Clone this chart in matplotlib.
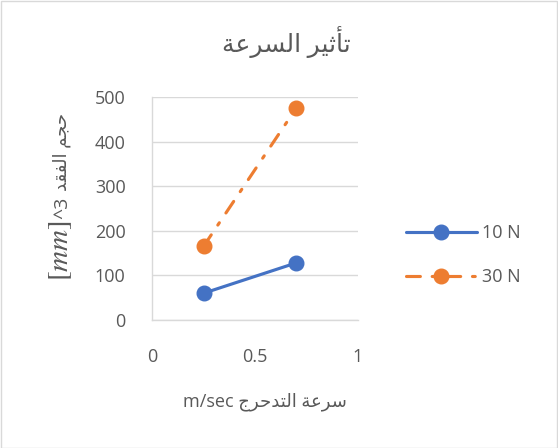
import matplotlib
matplotlib.use("Agg")
import matplotlib.pyplot as plt
from matplotlib.patches import Rectangle

# data
speed = [0.25, 0.7]
loss_10n = [60, 128]
loss_30n = [165, 475]
series_labels = ["10 N", "30 N"]
x_ticks = [0, 0.5, 1]
x_tick_labels = ["0", "0.5", "1"]
y_ticks = [0, 100, 200, 300, 400, 500]

# Arabic text in visual order with presentation forms (matplotlib does no shaping)
title_txt = "\uFE94\uFECB\uFEAE\uFEB4\uFEDF\uFE8D \uFEAE\uFEF4\uFE9B\uFE84\uFE97"
xlabel_txt = "m/sec \uFE9D\uFEAE\uFEA3\uFEAA\uFE98\uFEDF\uFE8D \uFE94\uFECB\uFEAE\uFEB3"
ylabel_ar = "\uFEAA\uFED8\uFED4\uFEDF\uFE8D \uFEE2\uFEA0\uFEA3"
ylabel_unit = r"$[mm]$"
ylabel_pow = "^3"

plt.rcParams["font.family"] = ["Open Sans", "DejaVu Sans"]
plt.rcParams["mathtext.fontset"] = "stix"
plt.rcParams["lines.scale_dashes"] = False

text_col = "#595959"
blue = "#4472C4"
orange = "#ED7D31"

fig = plt.figure(figsize=(5.58, 4.48), dpi=100)
ax = fig.add_axes([152 / 558, 1 - 320 / 448, 206 / 558, 223 / 448])

ax.plot(speed, loss_10n, color=blue, lw=2.25, marker="o", ms=10.5,
        label=series_labels[0], solid_capstyle="round")
ax.plot(speed, loss_30n, color=orange, lw=2.25, marker="o", ms=10.5,
        linestyle=(0, (10, 8.5, 2, 8.5)), dash_capstyle="round",
        label=series_labels[1])

ax.set_xlim(0, 1)
ax.set_ylim(0, 500)
ax.set_xticks(x_ticks)
ax.set_xticklabels(x_tick_labels)
ax.set_yticks(y_ticks)
ax.tick_params(axis="both", length=0, labelsize=13, labelcolor=text_col)
ax.tick_params(axis="y", pad=19)
ax.tick_params(axis="x", pad=20)
ax.grid(axis="y", color="#d9d9d9", lw=1)
ax.set_axisbelow(True)
for side in ["top", "right"]:
    ax.spines[side].set_visible(False)
for side in ["left", "bottom"]:
    ax.spines[side].set_color("#d9d9d9")
    ax.spines[side].set_linewidth(1)

fig.text(286 / 558, 1 - 42 / 448, title_txt, ha="center", va="center",
         fontsize=18, color=text_col)
fig.text(265 / 558, 1 - 402 / 448, xlabel_txt, ha="center", va="center",
         fontsize=13, color=text_col)
# y label in pieces: Arabic words on top, then ^3, then the unit
fig.text(62 / 558, 1 - 191 / 448, ylabel_ar, ha="center", va="bottom",
         rotation=90, fontsize=13, color=text_col)
fig.text(62 / 558, 1 - 197 / 448, ylabel_pow, ha="center", va="top",
         rotation=90, fontsize=14, color=text_col)
fig.text(61 / 558, 1 - 220 / 448, ylabel_unit, ha="center", va="top",
         rotation=90, fontsize=21, color=text_col)

fig.legend(loc="center left", bbox_to_anchor=(390 / 558, 1 - 255 / 448),
           frameon=False, fontsize=13, labelcolor=text_col,
           handlelength=3.9, labelspacing=1.45, handletextpad=0.3)

fig.patches.append(Rectangle((0.001, 0.001), 0.997, 0.997, transform=fig.transFigure,
                             fill=False, edgecolor="#d9d9d9", lw=1))

fig.savefig("out.png", dpi=100)
